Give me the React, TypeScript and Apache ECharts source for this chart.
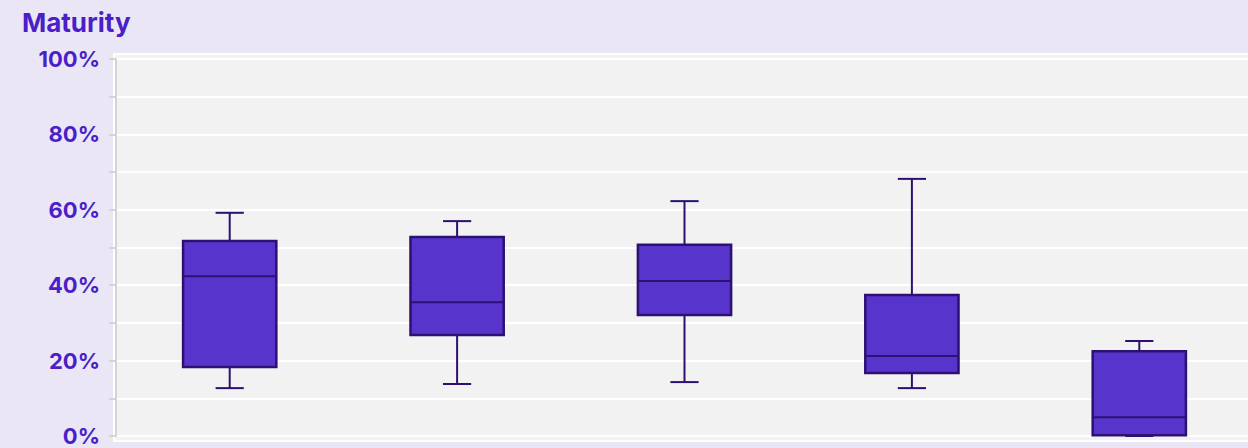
import React, { useEffect, useRef } from "react";
import * as echarts from "echarts";

const categories = ["A", "B", "C", "D", "E"];
const minValues = [12.7, 13.8, 14.3, 12.7, 0];
const q1Values = [18.3, 26.8, 32.1, 16.7, 0.2];
const medianValues = [42.4, 35.5, 41.1, 21.2, 5.0];
const q3Values = [51.7, 52.8, 50.7, 37.4, 22.5];
const maxValues = [59.2, 57.0, 62.3, 68.2, 25.2];
const yTicks = [0, 20, 40, 60, 80, 100];

const FILL = "#5734CC";
const STROKE = "#2C1172";
const LABEL = "#4A1FC8";

export default function App() {
  const ref = useRef<HTMLDivElement>(null);
  useEffect(() => {
    document.body.style.margin = "0";
    document.body.style.overflow = "hidden";
    document.documentElement.style.overflow = "hidden";
    const chart = echarts.init(ref.current!, null, { renderer: "svg" });
    const data = categories.map((c, i) => [i, minValues[i], q1Values[i], medianValues[i], q3Values[i], maxValues[i]]);
    chart.setOption({
      animation: false,
      backgroundColor: "#EBE6F6",
      textStyle: { fontFamily: "Inter" },
      graphic: [
        {
          type: "rect",
          z: -10,
          shape: { x: 114, y: 54, width: 1150, height: 387 },
          style: { fill: "#F2F2F2", stroke: "#FFFFFF", lineWidth: 2 },
        },
        {
          type: "text",
          left: 22,
          top: 9,
          style: { text: "Maturity", fill: LABEL, font: "bold 26px Inter" },
        },
      ],
      grid: { left: 116, top: 59, bottom: 12, width: 1137, containLabel: false },
      xAxis: {
        type: "category",
        data: categories,
        axisLine: { show: false },
        axisTick: { show: false },
        axisLabel: { show: false },
        splitLine: { show: false },
      },
      yAxis: {
        type: "value",
        min: 0,
        max: 100,
        interval: 10,
        axisLine: { show: true, lineStyle: { color: "#D4D4D4", width: 2 } },
        axisTick: { show: true, length: 7, lineStyle: { color: "#D4D4D4", width: 2 } },
        axisLabel: {
          color: LABEL,
          fontWeight: "bold",
          fontSize: 22,
          fontFamily: "Inter",
          margin: 16,
          formatter: (v: number) => (yTicks.indexOf(v) >= 0 ? v + "%" : ""),
        },
        splitLine: { show: true, lineStyle: { color: "#FFFFFF", width: 2 } },
      },
      series: [
        {
          type: "custom",
          data,
          clip: false,
          renderItem: (params: any, api: any) => {
            const x = api.value(0);
            const band = api.size([1, 0])[0];
            const half = band * 0.205;
            const capHalf = band * 0.062;
            const pMin = api.coord([x, api.value(1)]);
            const pQ1 = api.coord([x, api.value(2)]);
            const pMed = api.coord([x, api.value(3)]);
            const pQ3 = api.coord([x, api.value(4)]);
            const pMax = api.coord([x, api.value(5)]);
            const cx = pMed[0];
            const ls = { stroke: STROKE, lineWidth: 2 };
            return {
              type: "group",
              children: [
                { type: "line", shape: { x1: cx, y1: pQ3[1], x2: cx, y2: pMax[1] }, style: ls },
                { type: "line", shape: { x1: cx - capHalf, y1: pMax[1], x2: cx + capHalf, y2: pMax[1] }, style: ls },
                { type: "line", shape: { x1: cx, y1: pQ1[1], x2: cx, y2: pMin[1] }, style: ls },
                { type: "line", shape: { x1: cx - capHalf, y1: pMin[1], x2: cx + capHalf, y2: pMin[1] }, style: ls },
                {
                  type: "rect",
                  shape: { x: cx - half, y: pQ3[1], width: half * 2, height: pQ1[1] - pQ3[1] },
                  style: { fill: FILL, stroke: STROKE, lineWidth: 2.5 },
                },
                { type: "line", shape: { x1: cx - half, y1: pMed[1], x2: cx + half, y2: pMed[1] }, style: ls },
              ],
            };
          },
        },
      ],
    });
    return () => chart.dispose();
  }, []);
  return <div ref={ref} style={{ width: 1256, height: 448 }} />;
}
